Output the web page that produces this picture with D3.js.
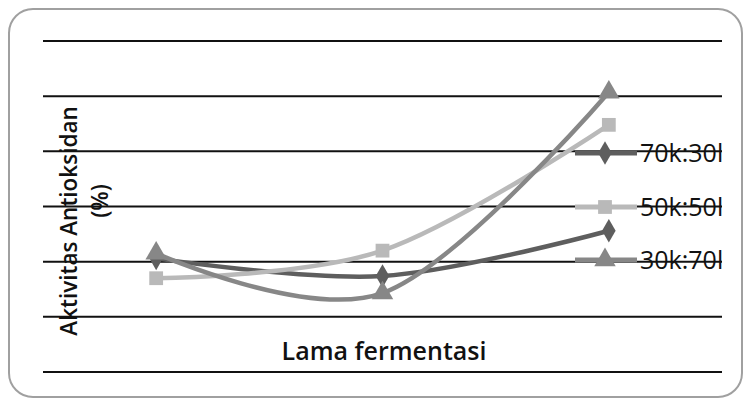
<!DOCTYPE html>
<html><head><meta charset="utf-8">
<script src="https://cdn.jsdelivr.net/npm/d3@7"></script>
<style>body{margin:0;background:#fff}svg{display:block}</style>
</head><body>
<script>
const categories = ["1", "2", "3"];
const seriesNames = ["70k:30l", "50k:50l", "30k:70l"];
const s70k30l = [20.6, 17.4, 25.6];
const s50k50l = [17.0, 22.0, 44.8];
const s30k70l = [21.5, 14.3, 50.7];
const yTicks = [0, 10, 20, 30, 40, 50, 60];
const yTitle = ["Aktivitas Antioksidan", "(%)"];
const xTitle = "Lama fermentasi";

const W = 747, H = 400;
const svg = d3.select("body").append("svg").attr("width", W).attr("height", H);

svg.append("rect").attr("x", 9).attr("y", 9).attr("width", 733).attr("height", 388)
  .attr("rx", 24).attr("fill", "#fff").attr("stroke", "#a0a0a0").attr("stroke-width", 2);

const x = d3.scaleBand().domain(categories).range([43, 722]);
const y = d3.scaleLinear().domain([0, 60]).range([372, 41]);

// y title
svg.append("text").attr("transform", "translate(77,221) rotate(-90)")
  .attr("text-anchor", "middle").attr("font-family", "Open Sans, sans-serif")
  .attr("font-weight", 600).attr("font-size", 22.5).attr("fill", "#111").text(yTitle[0]);
svg.append("text").attr("transform", "translate(108,201) rotate(-90)")
  .attr("text-anchor", "middle").attr("font-family", "Open Sans, sans-serif")
  .attr("font-weight", 600).attr("font-size", 22.5).attr("fill", "#111").text(yTitle[1]);

// x title
svg.append("text").attr("x", 384).attr("y", 360).attr("text-anchor", "middle")
  .attr("font-family", "Open Sans, sans-serif").attr("font-weight", 600)
  .attr("font-size", 25).attr("fill", "#111").text(xTitle);

// gridlines
svg.append("g").selectAll("line").data(yTicks).join("line")
  .attr("x1", 43).attr("x2", 722)
  .attr("y1", d => y(d)).attr("y2", d => y(d))
  .attr("stroke", "#111").attr("stroke-width", 2);

const colors = ["#5e5e5e", "#b9b9b9", "#878787"];
const symbols = [d3.symbolDiamond, d3.symbolSquare, d3.symbolTriangle];
const symSizes = [160, 190, 200];
const data = [s70k30l, s50k50l, s30k70l];
const cx = c => x(c) + x.bandwidth() / 2;

const line = d3.line().x((d, i) => cx(categories[i])).y(d => y(d)).curve(d3.curveCatmullRom.alpha(0));

data.forEach((vals, k) => {
  svg.append("path").datum(vals).attr("d", line).attr("fill", "none")
    .attr("stroke", colors[k]).attr("stroke-width", 4.5);
});
data.forEach((vals, k) => {
  svg.append("g").selectAll("path").data(vals).join("path")
    .attr("transform", (d, i) => `translate(${cx(categories[i])},${y(d)})`)
    .attr("d", d3.symbol(symbols[k], symSizes[k])).attr("fill", colors[k]);
});

// legend
const legY = [153, 207, 260];
seriesNames.forEach((n, k) => {
  const g = svg.append("g").attr("transform", `translate(0,${legY[k]})`);
  g.append("line").attr("x1", 575).attr("x2", 637).attr("stroke", colors[k]).attr("stroke-width", 5);
  g.append("path").attr("transform", "translate(605,0)").attr("d", d3.symbol(symbols[k], symSizes[k])).attr("fill", colors[k]);
  g.append("text").attr("x", 640).attr("y", 9).attr("font-family", "Open Sans, sans-serif")
    .attr("font-size", 25).attr("fill", "#111").text(n);
});
</script>
</body></html>
